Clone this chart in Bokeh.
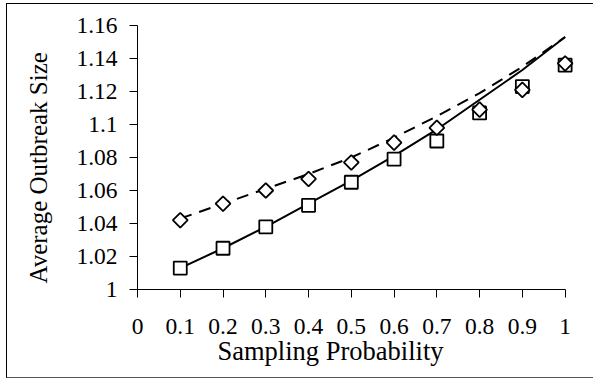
import math
from bokeh.plotting import figure
from bokeh.models import Range1d, FixedTicker, CustomJSTickFormatter, Title, InlineStyleSheet
from bokeh.embed import file_html
from bokeh.resources import INLINE

# ---- data ----
sampling_prob = [0.1, 0.2, 0.3, 0.4, 0.5, 0.6, 0.7, 0.8, 0.9, 1.0]
squares_avg = [1.013, 1.025, 1.038, 1.051, 1.065, 1.079, 1.090, 1.107, 1.123, 1.136]
diamonds_avg = [1.042, 1.052, 1.060, 1.067, 1.077, 1.089, 1.098, 1.109, 1.121, 1.137]
solid_curve = [1.013, 1.025, 1.038, 1.052, 1.066, 1.081, 1.097, 1.115, 1.133, 1.153]
dashed_curve = [1.043, 1.052, 1.061, 1.070, 1.080, 1.092, 1.105, 1.119, 1.135, 1.153]
x_ticks = [0, 0.1, 0.2, 0.3, 0.4, 0.5, 0.6, 0.7, 0.8, 0.9, 1.0]
y_ticks = [1, 1.02, 1.04, 1.06, 1.08, 1.1, 1.12, 1.14, 1.16]
x_title = "Sampling Probability"
y_title = "Average Outbreak Size"

FONT = "Liberation Serif"

p = figure(
    frame_width=449, frame_height=264,
    min_border_left=136, min_border_right=8,
    min_border_top=25, min_border_bottom=90,
    x_range=Range1d(0, 1.05), y_range=Range1d(1, 1.16),
    output_backend="svg", toolbar_location=None,
)
p.outline_line_color = None
p.grid.visible = False
p.background_fill_color = "white"
p.border_fill_color = "white"

# outer chart border (left, top and bottom edges; its right edge lies outside the window)
p.stylesheets = [InlineStyleSheet(css="""
:host::after {
  content: "";
  position: absolute;
  left: 6px; top: 3px; right: 0px; bottom: 1px;
  border-left: 1.5px solid black;
  border-top: 1.5px solid black;
  border-bottom: 1px solid #555;
  box-sizing: border-box;
  pointer-events: none;
  z-index: 100;
}
""")]

fmt = CustomJSTickFormatter(code="return String(Math.round(tick*100)/100);")

xa = p.xaxis[0]
xa.ticker = FixedTicker(ticks=x_ticks)
xa.formatter = fmt
xa.bounds = (0, 1)
xa.minor_tick_line_color = None
xa.major_tick_in = 0
xa.major_tick_out = 8
xa.major_label_standoff = 21
xa.major_label_text_font = FONT
xa.major_label_text_font_size = "23.5px"
xa.major_label_text_color = "black"
xa.axis_line_color = "black"
xa.major_tick_line_color = "black"

ya = p.yaxis[0]
ya.ticker = FixedTicker(ticks=y_ticks)
ya.formatter = fmt
ya.minor_tick_line_color = None
ya.major_tick_in = 0
ya.major_tick_out = 8
ya.major_label_standoff = 12
ya.major_label_text_font = FONT
ya.major_label_text_font_size = "23.5px"
ya.major_label_text_color = "black"
ya.axis_line_color = "black"
ya.major_tick_line_color = "black"

# trend curves
p.line(sampling_prob, solid_curve, line_color="black", line_width=2)
p.line(sampling_prob, dashed_curve, line_color="black", line_width=2, line_dash="12 8")

# markers
p.scatter(sampling_prob, squares_avg, marker="square", size=13,
          fill_color="white", line_color="black", line_width=1.8)
p.scatter(sampling_prob, diamonds_avg, marker="square", size=10.5, angle=math.pi / 4,
          fill_color="white", line_color="black", line_width=1.8)

# axis titles
p.add_layout(Title(text=x_title, align="left", offset=80, standoff=-6,
                   text_font=FONT, text_font_size="26.5px", text_font_style="normal",
                   text_color="black"), "below")
p.add_layout(Title(text=y_title, align="left", offset=6, standoff=44,
                   text_font=FONT, text_font_size="25px", text_font_style="normal",
                   text_color="black"), "left")

open("out.html", "w").write(file_html(p, INLINE))
